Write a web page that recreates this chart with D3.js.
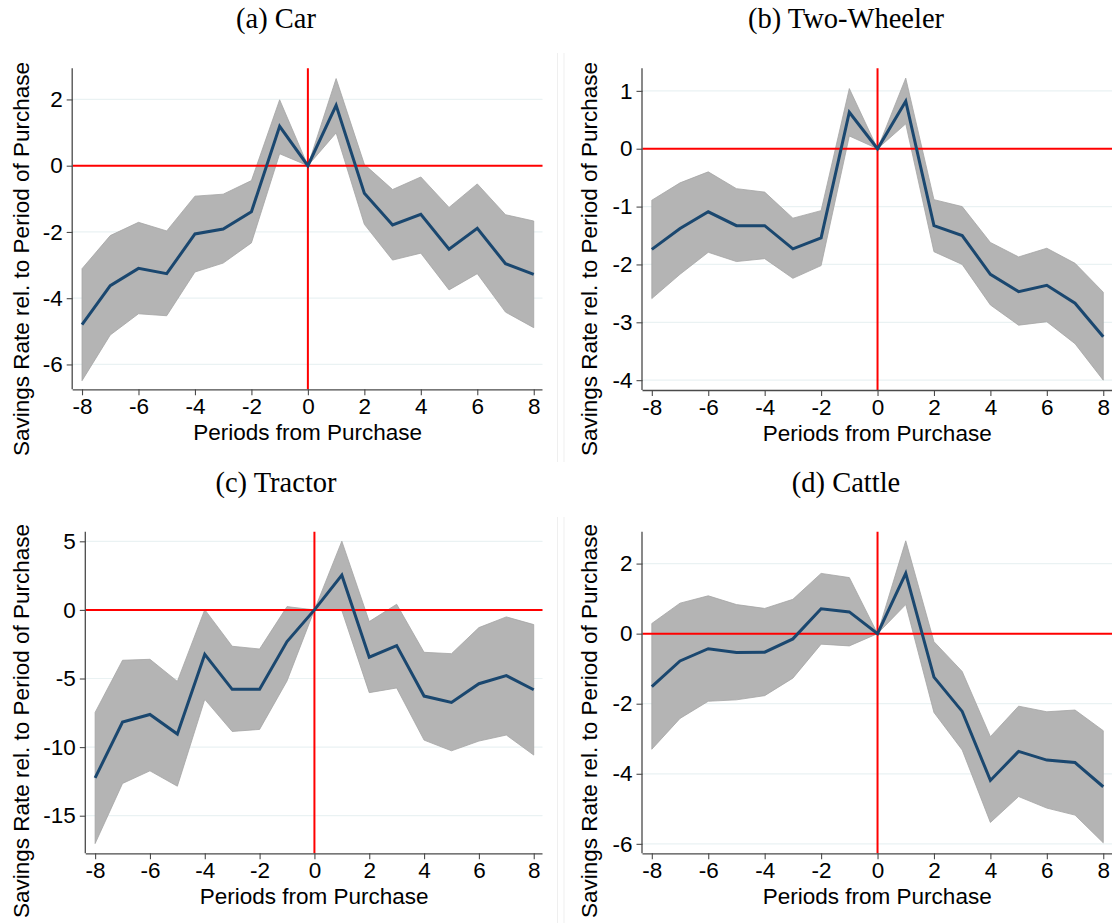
<!DOCTYPE html>
<html>
<head>
<meta charset="utf-8">
<script src="https://cdn.jsdelivr.net/npm/d3@7"></script>
<style>
  html, body { margin: 0; padding: 0; background: #fff; }
  svg { display: block; }
  .tick text { font-family: "Liberation Sans", Arial, sans-serif; }
</style>
</head>
<body>
<svg id="chart" width="1112" height="923"></svg>
<script>
// Event-study estimates: periods relative to purchase
const periods = [-8, -7, -6, -5, -4, -3, -2, -1, 0, 1, 2, 3, 4, 5, 6, 7, 8];
const xTicks = [-8, -6, -4, -2, 0, 2, 4, 6, 8];

// (a) Car
const carCoef  = [-4.80, -3.62, -3.10, -3.26, -2.06, -1.91, -1.39, 1.19, 0, 1.82, -0.83, -1.79, -1.47, -2.52, -1.89, -2.96, -3.28];
const carUpper = [-3.11, -2.11, -1.71, -1.97, -0.92, -0.86, -0.45, 1.99, 0, 2.63, 0.04, -0.72, -0.34, -1.26, -0.55, -1.48, -1.67];
const carLower = [-6.49, -5.11, -4.47, -4.53, -3.21, -2.94, -2.33, 0.36, 0, 0.99, -1.77, -2.85, -2.64, -3.75, -3.26, -4.42, -4.89];
const carTicks = [-6, -4, -2, 0, 2];

// (b) Two-Wheeler
const twCoef  = [-1.74, -1.38, -1.09, -1.33, -1.33, -1.73, -1.54, 0.63, 0, 0.82, -1.33, -1.50, -2.17, -2.47, -2.36, -2.67, -3.25];
const twUpper = [-0.89, -0.59, -0.40, -0.69, -0.75, -1.20, -1.07, 1.04, 0, 1.22, -0.88, -1.00, -1.62, -1.87, -1.72, -1.98, -2.48];
const twLower = [-2.59, -2.17, -1.79, -1.95, -1.90, -2.24, -2.02, 0.22, 0, 0.43, -1.78, -2.00, -2.70, -3.05, -2.99, -3.37, -4.00];
const twTicks = [-4, -3, -2, -1, 0, 1];

// (c) Tractor
const trCoef  = [-12.24, -8.18, -7.62, -9.05, -3.24, -5.79, -5.79, -2.31, 0, 2.53, -3.45, -2.60, -6.28, -6.74, -5.38, -4.79, -5.82];
const trUpper = [-7.47, -3.67, -3.60, -5.21, 0.02, -2.65, -2.85, 0.24, 0, 5.01, -0.85, 0.41, -3.09, -3.19, -1.29, -0.51, -1.07];
const trLower = [-17.03, -12.65, -11.73, -12.85, -6.52, -8.86, -8.71, -5.18, 0, -0.05, -6.03, -5.69, -9.49, -10.27, -9.56, -9.12, -10.58];
const trTicks = [-15, -10, -5, 0, 5];

// (d) Cattle
const caCoef  = [-1.51, -0.78, -0.43, -0.54, -0.53, -0.15, 0.71, 0.62, 0, 1.72, -1.24, -2.22, -4.19, -3.36, -3.61, -3.68, -4.37];
const caUpper = [0.29, 0.87, 1.08, 0.83, 0.72, 0.98, 1.72, 1.60, 0, 2.65, -0.23, -1.08, -2.94, -2.07, -2.23, -2.18, -2.77];
const caLower = [-3.30, -2.42, -1.93, -1.89, -1.77, -1.27, -0.30, -0.35, 0, 0.83, -2.25, -3.32, -5.39, -4.65, -4.98, -5.18, -5.97];
const caTicks = [-6, -4, -2, 0, 2];

const titles = ["(a) Car", "(b) Two-Wheeler", "(c) Tractor", "(d) Cattle"];
const yTitle = "Savings Rate rel. to Period of Purchase";
const xTitle = "Periods from Purchase";

const SANS = '"Liberation Sans", Arial, sans-serif';
const SERIF = '"Liberation Serif", "Times New Roman", serif';
const LABEL_SIZE = 22.5;

// Panel geometry (plot region in page pixels) and axis ranges
const panels = [
  { title: titles[0], coef: carCoef, upper: carUpper, lower: carLower, yTicks: carTicks,
    box: { l: 72.7, t: 68.3, r: 542.5, b: 389.3 }, xDom: [-8.33, 8.31], yDom: [-6.75, 2.94],
    titleX: 276, titleY: 28, yTitleX: 28.5, yTitleY: 259 },
  { title: titles[1], coef: twCoef, upper: twUpper, lower: twLower, yTicks: twTicks,
    box: { l: 642.5, t: 68.3, r: 1112, b: 390 }, xDom: [-8.33, 8.31], yDom: [-4.17, 1.39],
    titleX: 846, titleY: 28, yTitleX: 597, yTitleY: 259 },
  { title: titles[2], coef: trCoef, upper: trUpper, lower: trLower, yTicks: trTicks,
    box: { l: 85.8, t: 531.7, r: 542.5, b: 853.3 }, xDom: [-8.34, 8.32], yDom: [-17.74, 5.70],
    titleX: 276, titleY: 492, yTitleX: 28.5, yTitleY: 721 },
  { title: titles[3], coef: caCoef, upper: caUpper, lower: caLower, yTicks: caTicks,
    box: { l: 642.5, t: 531.7, r: 1112, b: 853.3 }, xDom: [-8.33, 8.31], yDom: [-6.27, 2.91],
    titleX: 846, titleY: 492, yTitleX: 597, yTitleY: 721 }
];

const svg = d3.select("#chart");

// faint borders of the right-hand graph regions
[[53, 462], [517, 923]].forEach(([y0, y1]) => {
  [557.5, 564].forEach(x => {
    svg.append("line").attr("x1", x).attr("x2", x).attr("y1", y0).attr("y2", y1)
      .attr("stroke", "#efefef").attr("stroke-width", 1);
  });
});

panels.forEach(p => {
  const g = svg.append("g");
  const x = d3.scaleLinear().domain(p.xDom).range([p.box.l, p.box.r]);
  const y = d3.scaleLinear().domain(p.yDom).range([p.box.b, p.box.t]);

  const rows = periods.map((t, i) => ({ t, c: p.coef[i], u: p.upper[i], lo: p.lower[i] }));

  // grid lines
  g.selectAll("line.grid").data(p.yTicks).join("line")
    .attr("class", "grid")
    .attr("x1", p.box.l).attr("x2", p.box.r)
    .attr("y1", d => y(d)).attr("y2", d => y(d))
    .attr("stroke", "#eaf2f3").attr("stroke-width", 1.2);

  // confidence band
  const area = d3.area().x(d => x(d.t)).y0(d => y(d.lo)).y1(d => y(d.u));
  g.append("path").datum(rows).attr("d", area)
    .attr("fill", "#b4b4b4").attr("stroke", "#a5a5a5").attr("stroke-width", 0.8);

  // reference lines at zero
  g.append("line").attr("x1", p.box.l).attr("x2", p.box.r)
    .attr("y1", y(0)).attr("y2", y(0))
    .attr("stroke", "#ff0000").attr("stroke-width", 2);
  g.append("line").attr("x1", x(0)).attr("x2", x(0))
    .attr("y1", p.box.t).attr("y2", p.box.b)
    .attr("stroke", "#ff0000").attr("stroke-width", 2);

  // point estimates
  const line = d3.line().x(d => x(d.t)).y(d => y(d.c));
  g.append("path").datum(rows).attr("d", line)
    .attr("fill", "none").attr("stroke", "#1a476f").attr("stroke-width", 3)
    .attr("stroke-linejoin", "miter");

  // axes
  const fmt = d => d < 0 ? "-" + Math.abs(d) : String(d);
  const xAxis = d3.axisBottom(x).tickValues(xTicks).tickSize(6).tickPadding(3).tickFormat(fmt);
  const gx = g.append("g").attr("transform", `translate(0,${p.box.b})`).call(xAxis);
  const yAxis = d3.axisLeft(y).tickValues(p.yTicks).tickSize(6).tickPadding(4).tickFormat(fmt);
  const gy = g.append("g").attr("transform", `translate(${p.box.l},0)`).call(yAxis);

  [gx, gy].forEach(a => {
    a.select(".domain").attr("stroke", "#4a4a4a").attr("stroke-width", 1.3);
    a.selectAll(".tick line").attr("stroke", "#4a4a4a").attr("stroke-width", 1.1);
    a.selectAll(".tick text").attr("fill", "#000").attr("font-size", LABEL_SIZE).attr("font-family", SANS);
  });
  // straight domain lines without end caps
  gx.select(".domain").attr("d", `M${p.box.l},0.5H${p.box.r}`);
  gy.select(".domain").attr("d", `M-0.5,${p.box.t}V${p.box.b}`);

  // titles
  g.append("text").attr("x", p.titleX).attr("y", p.titleY)
    .attr("text-anchor", "middle").attr("font-family", SERIF).attr("font-size", 28.5)
    .attr("fill", "#000").text(p.title);
  g.append("text").attr("x", (p.box.l + p.box.r) / 2).attr("y", p.box.b + 51)
    .attr("text-anchor", "middle").attr("font-family", SANS).attr("font-size", LABEL_SIZE)
    .attr("fill", "#000").text(xTitle);
  g.append("text")
    .attr("transform", `translate(${p.yTitleX},${p.yTitleY}) rotate(-90)`)
    .attr("text-anchor", "middle").attr("font-family", SANS).attr("font-size", LABEL_SIZE)
    .attr("fill", "#000").text(yTitle);
});
</script>
</body>
</html>
